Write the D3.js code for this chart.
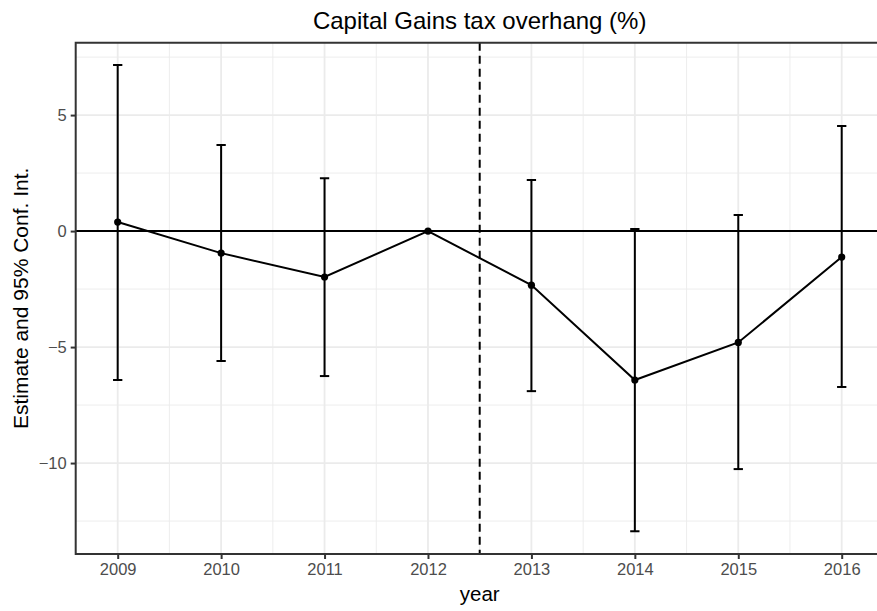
<!DOCTYPE html>
<html><head><meta charset="utf-8">
<script src="https://cdn.jsdelivr.net/npm/d3@7"></script>
<style>
html,body{margin:0;padding:0;background:#fff;overflow:hidden;}
svg{display:block;overflow:hidden;}
text{font-family:"Liberation Sans",Arial,sans-serif;}
</style></head>
<body><svg id="c" width="877" height="611"></svg>
<script>
const years = [2009, 2010, 2011, 2012, 2013, 2014, 2015, 2016];
const estimate = [0.39, -0.95, -1.98, 0, -2.33, -6.42, -4.80, -1.12];
const lower = [-6.42, -5.60, -6.25, 0, -6.90, -12.94, -10.26, -6.72];
const upper = [7.16, 3.71, 2.28, 0, 2.20, 0.09, 0.69, 4.53];
const xTicks = [2009, 2010, 2011, 2012, 2013, 2014, 2015, 2016];
const xMinor = [2009.5, 2010.5, 2011.5, 2012.5, 2013.5, 2014.5, 2015.5, 2016.5];
const yTicks = [-10, -5, 0, 5];
const yMinor = [-12.5, -7.5, -2.5, 2.5, 7.5];
const cutYear = 2012.5;
const titleText = "Capital Gains tax overhang (%)";
const xLabel = "year";
const yLabel = "Estimate and 95% Conf. Int.";

const W = 877, H = 611;
const L = 75.7, T = 42.7, R = 883.7, B = 554;
const x = d3.scaleLinear().domain([2008.594, 2016.406]).range([L, R]);
const y = d3.scaleLinear().domain([-13.92, 8.12]).range([B, T]);
const svg = d3.select("#c");
svg.append("rect").attr("width",W).attr("height",H).attr("fill","#fff");

svg.append("defs").append("clipPath").attr("id","pc")
  .append("rect").attr("x",L).attr("y",T).attr("width",W-L).attr("height",B-T);
const g = svg.append("g").attr("clip-path","url(#pc)");

// minor grid
g.selectAll(".ymn").data(yMinor).join("line")
  .attr("x1",L).attr("x2",R).attr("y1",d=>y(d)).attr("y2",d=>y(d))
  .attr("stroke","#ebebeb").attr("stroke-width",0.9);
g.selectAll(".xmn").data(xMinor).join("line")
  .attr("y1",T).attr("y2",B).attr("x1",d=>x(d)).attr("x2",d=>x(d))
  .attr("stroke","#ebebeb").attr("stroke-width",0.9);
// major grid
g.selectAll(".ymj").data(yTicks).join("line")
  .attr("x1",L).attr("x2",R).attr("y1",d=>y(d)).attr("y2",d=>y(d))
  .attr("stroke","#ebebeb").attr("stroke-width",1.8);
g.selectAll(".xmj").data(xTicks).join("line")
  .attr("y1",T).attr("y2",B).attr("x1",d=>x(d)).attr("x2",d=>x(d))
  .attr("stroke","#ebebeb").attr("stroke-width",1.8);

// zero line
g.append("line").attr("x1",L).attr("x2",R).attr("y1",y(0)).attr("y2",y(0))
  .attr("stroke","#000").attr("stroke-width",2);
// dashed vline
g.append("line").attr("x1",x(cutYear)).attr("x2",x(cutYear)).attr("y1",T).attr("y2",B)
  .attr("stroke","#000").attr("stroke-width",2).attr("stroke-dasharray","8,5");

const data = years.map((yr,i)=>({yr, est:estimate[i], lo:lower[i], hi:upper[i]}));
const capW = 0.045;
// error bars
const eb = g.selectAll(".eb").data(data).join("g");
eb.append("line").attr("x1",d=>x(d.yr)).attr("x2",d=>x(d.yr))
  .attr("y1",d=>y(d.lo)).attr("y2",d=>y(d.hi)).attr("stroke","#000").attr("stroke-width",2);
eb.append("line").attr("x1",d=>x(d.yr-capW)).attr("x2",d=>x(d.yr+capW))
  .attr("y1",d=>y(d.lo)).attr("y2",d=>y(d.lo)).attr("stroke","#000").attr("stroke-width",2);
eb.append("line").attr("x1",d=>x(d.yr-capW)).attr("x2",d=>x(d.yr+capW))
  .attr("y1",d=>y(d.hi)).attr("y2",d=>y(d.hi)).attr("stroke","#000").attr("stroke-width",2);
// line
g.append("path").datum(data)
  .attr("d", d3.line().x(d=>x(d.yr)).y(d=>y(d.est)))
  .attr("fill","none").attr("stroke","#000").attr("stroke-width",2);
g.selectAll(".pt").data(data).join("circle")
  .attr("cx",d=>x(d.yr)).attr("cy",d=>y(d.est)).attr("r",3.6).attr("fill","#000");

// border (panel runs off the right edge of the image)
svg.append("path")
  .attr("d",`M${W+5},${T}H${L}V${B}H${W+5}`)
  .attr("fill","none").attr("stroke","#333").attr("stroke-width",2);

// axes
const fmt = d => d < 0 ? "\u2212" + Math.abs(d) : String(d);
const ax = svg.append("g").attr("transform",`translate(0,${B})`)
  .call(d3.axisBottom(x).tickValues(xTicks).tickFormat(d=>String(d)).tickSize(5).tickSizeOuter(0).tickPadding(4));
const ay = svg.append("g").attr("transform",`translate(${L},0)`)
  .call(d3.axisLeft(y).tickValues(yTicks).tickFormat(fmt).tickSize(5).tickSizeOuter(0).tickPadding(4));
[ax,ay].forEach(a=>{
  a.select(".domain").remove();
  a.selectAll(".tick line").attr("stroke","#333").attr("stroke-width",2);
  a.selectAll(".tick text").attr("fill","#4d4d4d").style("font-size","16.5px")
    .style("font-family","'Liberation Sans',Arial,sans-serif");
});

svg.append("text").attr("x",(L+R)/2).attr("y",28.5).attr("text-anchor","middle")
  .style("font-size","24px").attr("fill","#000").text(titleText);
svg.append("text").attr("x",(L+R)/2).attr("y",601).attr("text-anchor","middle")
  .style("font-size","20.5px").attr("fill","#000").text(xLabel);
svg.append("text").attr("transform",`translate(28,${(T+B)/2}) rotate(-90)`)
  .attr("text-anchor","middle").style("font-size","21px").attr("fill","#000").text(yLabel);
</script></body></html>
